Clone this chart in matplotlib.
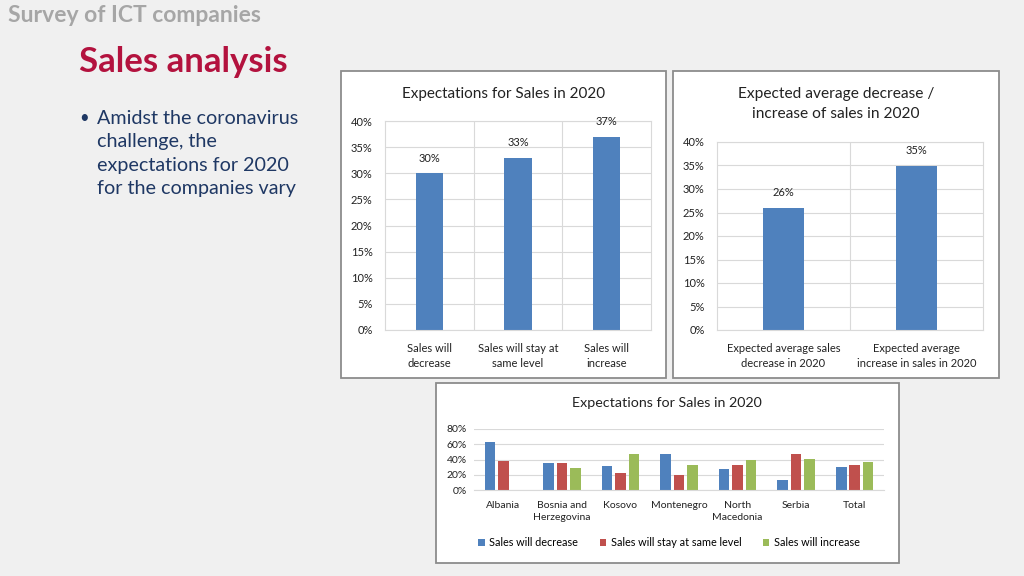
import matplotlib
matplotlib.use("Agg")
import matplotlib.pyplot as plt
from matplotlib.patches import Rectangle
import numpy as np

# ---- data ----
c1_categories = ["Sales will\ndecrease", "Sales will stay at\nsame level", "Sales will\nincrease"]
c1_values = [0.30, 0.33, 0.37]

c2_categories = ["Expected average sales\ndecrease in 2020", "Expected average\nincrease in sales in 2020"]
c2_values = [0.26, 0.35]

c3_countries = ["Albania", "Bosnia and\nHerzegovina", "Kosovo", "Montenegro", "North\nMacedonia", "Serbia", "Total"]
c3_decrease = [0.63, 0.36, 0.31, 0.47, 0.27, 0.13, 0.30]
c3_same = [0.38, 0.36, 0.22, 0.20, 0.33, 0.47, 0.33]
c3_increase = [0.00, 0.29, 0.47, 0.33, 0.39, 0.41, 0.37]
c3_series = ["Sales will decrease", "Sales will stay at same level", "Sales will increase"]

BLUE = "#4f81bd"
RED = "#c0504d"
GREEN = "#9bbb59"
GRID = "#d9d9d9"
FONT = "Lato"

W, H = 1024, 576
plt.rcParams["font.family"] = [FONT, "DejaVu Sans"]
fig = plt.figure(figsize=(W / 100, H / 100), dpi=100)
fig.patch.set_facecolor("#f0f0f0")


def fx(x):
    return x / W


def fy(y):
    return 1 - y / H


def panel(l, t, r, b):
    fig.patches.append(Rectangle((fx(l), fy(b)), fx(r - l), (b - t) / H,
                                 transform=fig.transFigure, facecolor="white",
                                 edgecolor="#8c8c8c", linewidth=1.3, zorder=-10))


def axes_px(l, t, r, b):
    ax = fig.add_axes([fx(l), fy(b), fx(r - l), (b - t) / H])
    ax.set_facecolor("white")
    for s in ax.spines.values():
        s.set_color(GRID)
        s.set_linewidth(0.8)
    ax.tick_params(length=0, colors="#222222")
    ax.set_axisbelow(True)
    return ax


def pct(v):
    return f"{int(round(v * 100))}%"


# ---- slide text ----
fig.text(fx(8), fy(16), "Survey of ICT companies", fontsize=16.5, fontweight="bold",
         color="#a6a6a6", va="center", ha="left")
fig.text(fx(79), fy(62), "Sales analysis", fontsize=25, fontweight="bold",
         color="#b3123e", va="center", ha="left")
bullet_lines = ["Amidst the coronavirus", "challenge, the", "expectations for 2020", "for the companies vary"]
fig.text(fx(79), fy(118), "•", fontsize=12, color="#1f3864", va="center", ha="left")
for i, line in enumerate(bullet_lines):
    fig.text(fx(97), fy(118.5 + i * 23.3), line, fontsize=14.2, color="#1f3864",
             va="center", ha="left")

# ---- chart 1 ----
panel(341, 71, 666, 378)
ax1 = axes_px(385, 121, 651, 330)
x1 = np.arange(len(c1_values))
ax1.bar(x1, c1_values, width=0.31, color=BLUE, zorder=2)
ax1.set_xlim(-0.5, len(c1_values) - 0.5)
ax1.set_ylim(0, 0.40)
ax1.set_yticks(np.arange(0, 0.401, 0.05))
ax1.set_yticklabels([pct(v) for v in np.arange(0, 0.401, 0.05)], fontsize=8)
ax1.set_xticks(x1)
ax1.set_xticklabels(c1_categories, fontsize=8, linespacing=1.5)
ax1.tick_params(axis="x", pad=9)
ax1.tick_params(axis="y", pad=9)
ax1.yaxis.grid(True, color=GRID, linewidth=0.8)
for xv in np.arange(0.5, len(c1_values) - 0.5, 1):
    ax1.axvline(xv, color=GRID, linewidth=0.8, zorder=1)
for xi, v in zip(x1, c1_values):
    ax1.annotate(pct(v), (xi, v), xytext=(0, 7), textcoords="offset points",
                 ha="center", va="bottom", fontsize=8, color="#222222")
fig.text(fx(503.5), fy(94), "Expectations for Sales in 2020", fontsize=11,
         ha="center", va="center", color="#222222")

# ---- chart 2 ----
panel(673, 71, 999, 378)
ax2 = axes_px(717, 142, 983, 330)
x2 = np.arange(len(c2_values))
ax2.bar(x2, c2_values, width=0.31, color=BLUE, zorder=2)
ax2.set_xlim(-0.5, len(c2_values) - 0.5)
ax2.set_ylim(0, 0.40)
ax2.set_yticks(np.arange(0, 0.401, 0.05))
ax2.set_yticklabels([pct(v) for v in np.arange(0, 0.401, 0.05)], fontsize=8)
ax2.set_xticks(x2)
ax2.set_xticklabels(c2_categories, fontsize=8, linespacing=1.5)
ax2.tick_params(axis="x", pad=9)
ax2.tick_params(axis="y", pad=9)
ax2.yaxis.grid(True, color=GRID, linewidth=0.8)
for xv in np.arange(0.5, len(c2_values) - 0.5, 1):
    ax2.axvline(xv, color=GRID, linewidth=0.8, zorder=1)
for xi, v in zip(x2, c2_values):
    ax2.annotate(pct(v), (xi, v), xytext=(0, 7), textcoords="offset points",
                 ha="center", va="bottom", fontsize=8, color="#222222")
fig.text(fx(836), fy(94), "Expected average decrease /", fontsize=11.2,
         ha="center", va="center", color="#222222")
fig.text(fx(836), fy(114), "increase of sales in 2020", fontsize=11.2,
         ha="center", va="center", color="#222222")

# ---- chart 3 ----
panel(436, 383, 899, 563)
ax3 = axes_px(474, 429, 884, 490)
x3 = np.arange(len(c3_countries))
bw = 0.18
gap = 0.05
for k, (vals, col, name) in enumerate(zip([c3_decrease, c3_same, c3_increase],
                                         [BLUE, RED, GREEN], c3_series)):
    ax3.bar(x3 + (k - 1) * (bw + gap), vals, width=bw, color=col, zorder=2, label=name)
ax3.set_xlim(-0.5, len(c3_countries) - 0.5)
ax3.set_ylim(0, 0.80)
ax3.set_yticks(np.arange(0, 0.801, 0.2))
ax3.set_yticklabels([pct(v) for v in np.arange(0, 0.801, 0.2)], fontsize=7.5)
ax3.set_xticks(x3)
ax3.set_xticklabels(c3_countries, fontsize=7.5, linespacing=1.4)
ax3.tick_params(axis="x", pad=8)
ax3.tick_params(axis="y", pad=5)
ax3.yaxis.grid(True, color=GRID, linewidth=0.8)
for s in ["left", "right", "top"]:
    ax3.spines[s].set_visible(False)
leg = ax3.legend(loc="center", bbox_to_anchor=(fx(669), fy(543)),
                 bbox_transform=fig.transFigure, ncol=3, frameon=False,
                 fontsize=7.8, handlelength=0.6, handleheight=0.6,
                 handletextpad=0.4, columnspacing=2.0)
fig.text(fx(667), fy(403), "Expectations for Sales in 2020", fontsize=10.3,
         ha="center", va="center", color="#222222")

fig.savefig("out.png", dpi=100, facecolor=fig.get_facecolor())
